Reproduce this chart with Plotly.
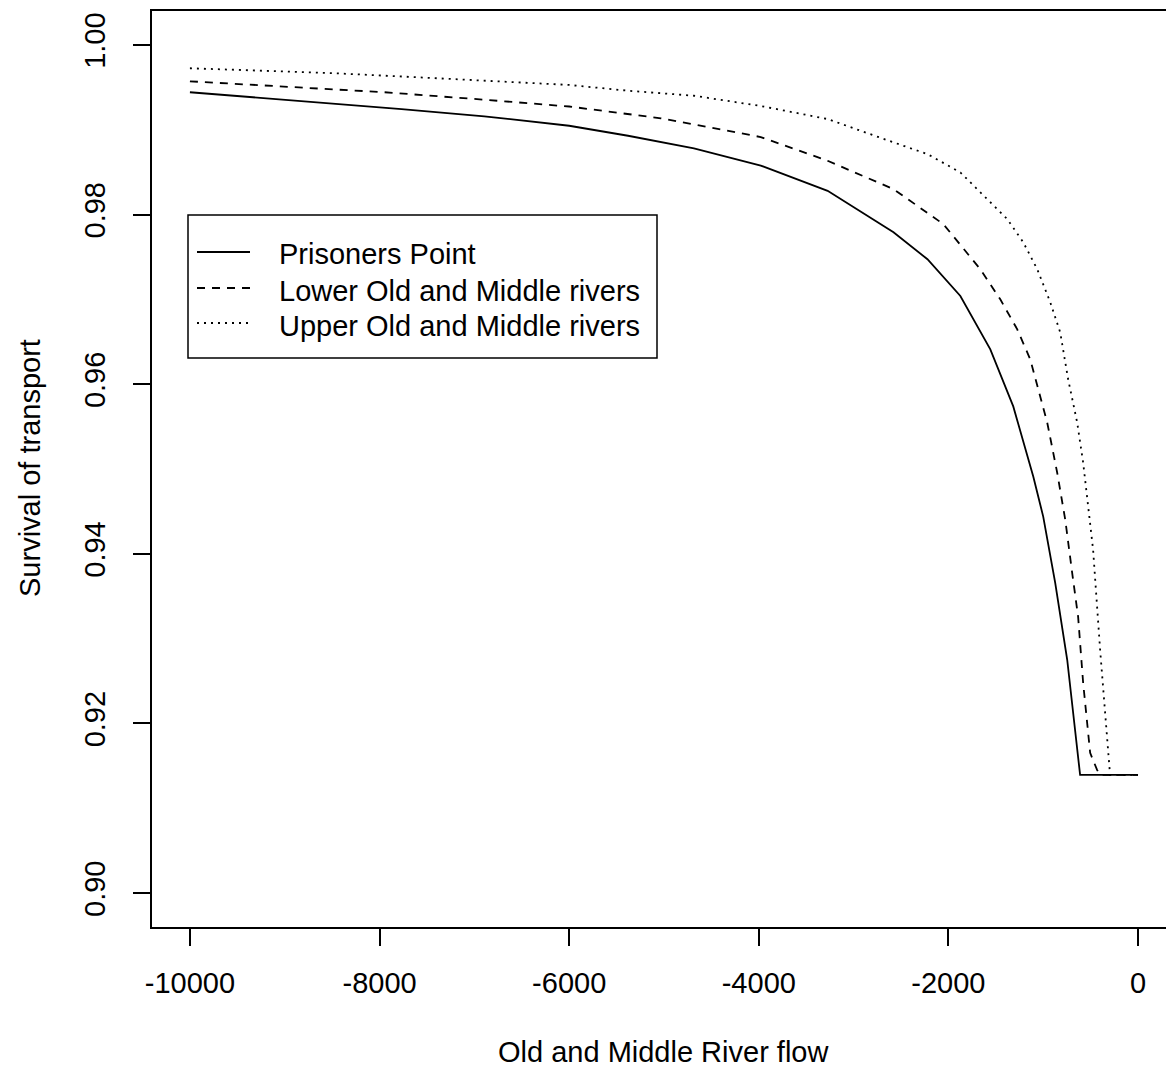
import plotly.graph_objects as go

# Prisoners Point (solid)
pp_x = [-10000, -8821, -7768, -6895, -6000, -5379, -4684, -3979, -3274, -2579,
        -2221, -1874, -1558, -1316, -1105, -1000, -874, -747, -611, 0]
pp_y = [0.99442, 0.99342, 0.99244, 0.99158, 0.99047, 0.98929, 0.98780, 0.98577,
        0.98280, 0.97792, 0.97473, 0.97040, 0.96411, 0.95738, 0.94911, 0.94439,
        0.93660, 0.92751, 0.91393, 0.91393]

# Lower Old and Middle rivers (dashed)
lo_x = [-10000, -9000, -7947, -6895, -6000, -5032, -3979, -3274, -2579, -2053,
        -1663, -1453, -1274, -1137, -1053, -958, -853, -768, -695, -632, -579,
        -505, -432, -400, 0]
lo_y = [0.99571, 0.99508, 0.99442, 0.99354, 0.99274, 0.99135, 0.98914, 0.98634,
        0.98300, 0.97887, 0.97355, 0.97001, 0.96647, 0.96293, 0.95939, 0.95549,
        0.94959, 0.94404, 0.93778, 0.93259, 0.92479, 0.91653, 0.91452, 0.91393,
        0.91393]

# Upper Old and Middle rivers (dotted)
up_x = [-10000, -9168, -8474, -7589, -6716, -6000, -5379, -4684, -3979, -3274,
        -2579, -2221, -1874, -1558, -1379, -1211, -1063, -926, -821, -737, -642,
        -579, -526, -474, -400, -326, -295, 0]
up_y = [0.99725, 0.99689, 0.99666, 0.99618, 0.99567, 0.99528, 0.99460, 0.99401,
        0.99280, 0.99126, 0.98851, 0.98713, 0.98497, 0.98146, 0.97946, 0.97674,
        0.97355, 0.96966, 0.96612, 0.96057, 0.95549, 0.95077, 0.94557, 0.94050,
        0.92869, 0.91889, 0.91393, 0.91393]

series_names = ["Prisoners Point", "Lower Old and Middle rivers", "Upper Old and Middle rivers"]
series_dash = ["solid", "8px,7px", "2px,5px"]
x_ticks = [-10000, -8000, -6000, -4000, -2000, 0]
y_ticks = [0.90, 0.92, 0.94, 0.96, 0.98, 1.00]
x_title = "Old and Middle River flow"
y_title = "Survival of transport"

FONT = "Liberation Sans, Arial, sans-serif"
FS = 29
LW = 1.8

W, H = 1166, 1072
ML, MR, MT, MB = 152, 0, 11, 145
PW, PH = W - ML - MR, H - MT - MB


def px_x(p):
    return (p - ML) / PW


def px_y(p):
    return (MT + PH - p) / PH


fig = go.Figure()
for xs, ys, nm, ds in zip([pp_x, lo_x, up_x], [pp_y, lo_y, up_y], series_names, series_dash):
    fig.add_trace(go.Scatter(x=xs, y=ys, mode="lines", name=nm, showlegend=False,
                             line=dict(color="black", width=LW, dash=ds)))

# legend drawn as a boxed key (R-style)
shapes = [dict(type="rect", xref="paper", yref="paper",
               x0=px_x(188), x1=px_x(657), y0=px_y(358), y1=px_y(215),
               line=dict(color="black", width=1.5), fillcolor="white", layer="above")]
annotations = []
sample_y = [252, 288, 323]
text_y = [254, 291, 326]
for nm, ds, sy, ty in zip(series_names, series_dash, sample_y, text_y):
    shapes.append(dict(type="line", xref="paper", yref="paper",
                       x0=px_x(197), x1=px_x(250), y0=px_y(sy), y1=px_y(sy),
                       line=dict(color="black", width=LW, dash=ds), layer="above"))
    annotations.append(dict(text=nm, xref="paper", yref="paper", x=px_x(277), y=px_y(ty),
                            xanchor="left", yanchor="middle", showarrow=False,
                            font=dict(family=FONT, size=FS, color="black")))

annotations += [
    dict(text=x_title, xref="x", yref="paper", x=-5000, y=px_y(1052),
         xanchor="center", yanchor="middle", showarrow=False,
         font=dict(family=FONT, size=FS, color="black")),
    dict(text=y_title, xref="paper", yref="paper", x=px_x(30), y=px_y(468),
         xanchor="center", yanchor="middle", textangle=-90, showarrow=False,
         font=dict(family=FONT, size=FS, color="black")),
]

fig.update_layout(
    width=W, height=H,
    margin=dict(l=ML, r=MR, t=MT, b=MB, pad=0),
    paper_bgcolor="white", plot_bgcolor="white",
    font=dict(family=FONT, size=FS, color="black"),
    showlegend=False,
    xaxis=dict(
        range=[-10400, 295], tickvals=x_ticks, ticktext=[str(v) for v in x_ticks],
        ticks="outside", ticklen=17, tickwidth=1.6, tickcolor="black",
        showline=True, linecolor="black", linewidth=1.6, mirror=True,
        showgrid=False, zeroline=False, automargin=False,
        ticklabelstandoff=12,
    ),
    yaxis=dict(
        range=[0.896, 1.004], tickvals=y_ticks, ticktext=[f"{v:.2f}" for v in y_ticks],
        ticks="outside", ticklen=17, tickwidth=1.6, tickcolor="black",
        showline=True, linecolor="black", linewidth=1.6, mirror=False,
        showgrid=False, zeroline=False, automargin=False, tickangle=-90,
        ticklabelstandoff=17,
    ),
    shapes=shapes,
    annotations=annotations,
)

fig.write_html(
    "out.html",
    config={"displayModeBar": False},
    post_script="document.body.style.margin='0px';document.body.style.overflow='hidden';",
)
